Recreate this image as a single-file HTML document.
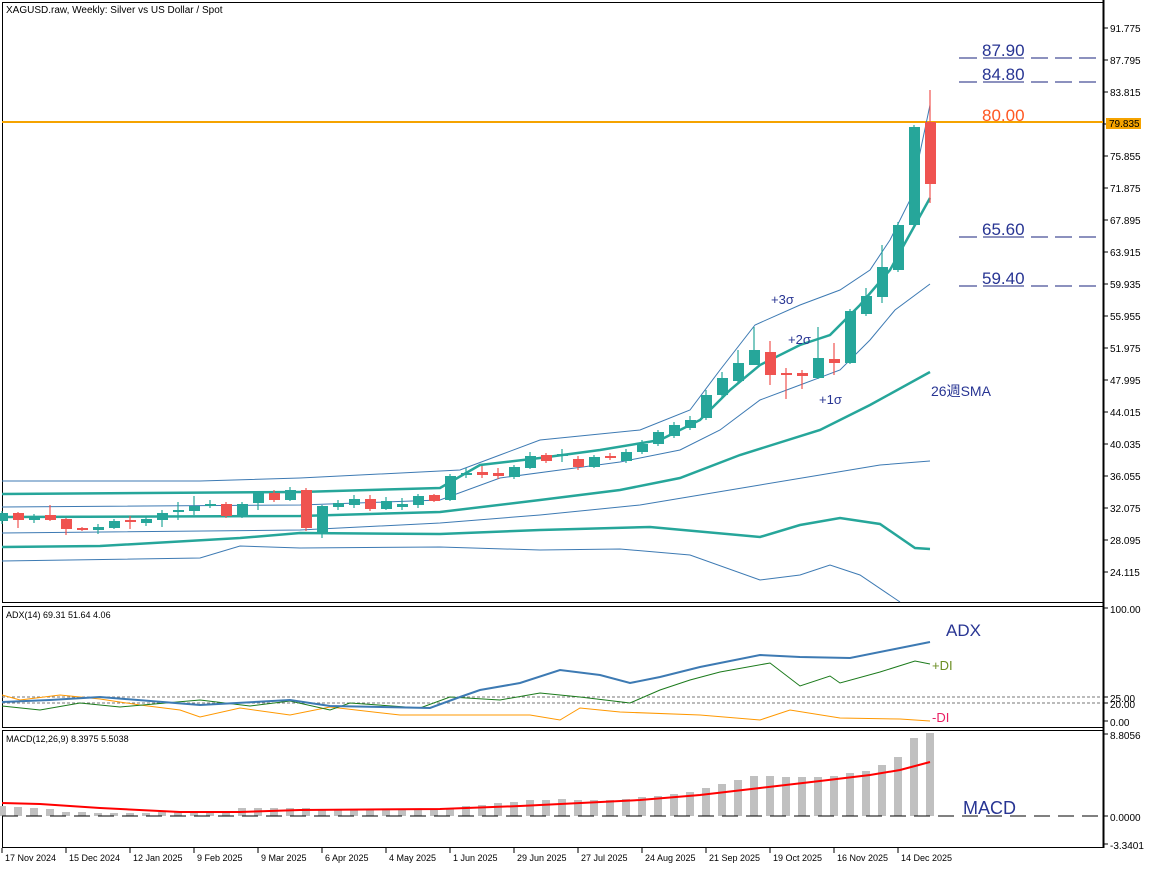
<!DOCTYPE html>
<html><head><meta charset="utf-8"><style>
html,body{margin:0;padding:0;background:#fff;}
svg{display:block;font-family:"Liberation Sans","Noto Sans CJK JP",sans-serif;}
</style></head><body>
<svg id="c" width="1152" height="870" xmlns="http://www.w3.org/2000/svg"></svg>
<script>
const S=document.getElementById('c');let h='';
function pl(pts,col,w,extra){let d=pts.map(p=>p.join(',')).join(' ');h+=`<polyline points="${d}" fill="none" stroke="${col}" stroke-width="${w}" ${extra||''}/>`;}
function ln(x1,y1,x2,y2,col,w,extra){h+=`<line x1="${x1}" y1="${y1}" x2="${x2}" y2="${y2}" stroke="${col}" stroke-width="${w}" ${extra||''}/>`;}
function tx(x,y,s,sz,col,extra){h+=`<text x="${x}" y="${y}" font-size="${sz}" fill="${col}" ${extra||''}>${s}</text>`;}
h+=`<rect x="2.5" y="2.5" width="1101" height="600" fill="none" stroke="#000"/>`;
h+=`<rect x="2.5" y="606.5" width="1101" height="121" fill="none" stroke="#000"/>`;
h+=`<rect x="2.5" y="730.5" width="1101" height="117" fill="none" stroke="#000"/>`;
ln(1103.5,0,1103.5,848,'#000',2);
const pv=['91.775','87.795','83.815','79.835','75.855','71.875','67.895','63.915','59.935','55.955','51.975','47.995','44.015','40.035','36.055','32.075','28.095','24.115'];
pv.forEach((v,i)=>{let y=28+i*32;ln(1104,y,1108,y,'#000',1);if(v!=='79.835')tx(1110,y+4,v,10,'#000');});
h+=`<rect x="1106" y="118" width="35" height="11" fill="#f5a300"/>`;tx(1109,127,'79.835',10,'#000');
ln(2,122,1103,122,'#f5a300',2);
const bands=[
[[2,481],[200,481],[300,478],[460,470],[500,455],[540,440],[640,430],[690,410],[720,370],[755,325],[800,305],[840,290],[870,270],[890,240],[910,200],[930,105],'#3d7ab3',1],
[[2,494],[300,492],[440,488],[480,465],[540,458],[600,450],[660,440],[700,420],[730,390],[760,365],[800,345],[830,335],[860,305],[890,270],[915,225],[930,198],'#26a69a',2.5],
[[2,507],[300,505],[440,500],[500,478],[560,470],[620,462],[680,450],[720,430],[760,400],[800,385],[840,370],[870,340],[895,310],[930,284],'#3d7ab3',1],
[[2,517],[300,516],[440,512],[540,500],[620,490],[680,478],[740,455],[820,430],[870,405],[930,372],'#26a69a',2.5],
[[2,533],[300,530],[440,523],[540,515],[640,505],[700,495],[760,485],[820,475],[880,465],[930,461],'#3d7ab3',1],
[[2,547],[100,546],[240,538],[300,533],[440,534],[540,530],[650,527],[760,537],[800,525],[840,518],[880,524],[915,548],[930,549],'#26a69a',2.5],
[[2,561],[200,558],[240,546],[300,548],[440,547],[540,550],[620,549],[690,555],[760,580],[800,575],[830,565],[860,575],[900,602],'#3d7ab3',1]];
bands.forEach(b=>{let w=b.pop(),c=b.pop();pl(b,c,w);});
const C=[[521,513,511,524],[513,520,512,528],[520,516,514,523],[515,520,505,521],[519,529,518,535],[528,530,527,531],[530,527,524,534],[528,521,519,529],[520,522,516,529],[523,519,516,526],[520,513,510,527],[512,510,502,520],[511,506,496,515],[506,504,500,508],[504,516,502,518],[516,504,502,518],[503,493,491,510],[493,500,490,502],[500,490,487,501],[490,528,488,531],[532,506,505,538],[507,503,500,510],[505,499,495,508],[499,509,495,511],[509,501,497,510],[506,505,498,510],[505,496,494,508],[495,501,494,502],[500,476,474,501],[475,473,468,478],[472,475,466,478],[473,476,468,479],[477,467,465,479],[468,456,452,469],[455,461,453,463],[456,454,449,462],[459,467,456,470],[467,457,455,468],[456,458,453,460],[461,452,449,463],[452,444,440,454],[444,432,430,446],[436,425,422,438],[428,420,416,430],[418,395,390,420],[395,378,372,397],[381,363,350,383],[365,350,327,365],[352,375,341,385],[374,374,368,399],[374,375,370,389],[378,358,327,379],[359,363,343,375],[363,311,309,364],[314,296,288,316],[297,267,245,303],[270,225,222,272],[225,127,125,227],[122,184,90,203]];
C.forEach((c,k)=>{let x=2+16*k,up=c[1]<c[0],col=up?'#26a69a':'#ef5350';ln(x,c[2],x,c[3],col,1.2);let t=Math.min(c[0],c[1]),b=Math.max(c[0],c[1]);if(b-t<1.5){t-=1;b+=1;}h+=`<rect x="${x-5}" y="${t}" width="11" height="${b-t}" fill="${col}"/>`;});
[[58,'87.90'],[82,'84.80'],[237,'65.60'],[286,'59.40']].forEach(([y,s])=>{ln(959,y,977,y,'#1a237e',1);ln(983,y,1024,y,'#1a237e',1);ln(1031,y,1097,y,'#1a237e',1,'stroke-dasharray="17,7"');tx(982,y-2,s,17,'#283593');});
tx(982,121,'80.00',17,'#ff5722');
tx(771,304,'+3σ',13,'#283593');tx(788,344,'+2σ',13,'#283593');tx(819,404,'+1σ',13,'#283593');tx(931,396,'26週SMA',14,'#283593');
tx(6,13,'XAGUSD.raw, Weekly:  Silver vs US Dollar / Spot',10,'#000');
ln(2,697,1103,697,'#777',1,'stroke-dasharray="3,2"');ln(2,703,1103,703,'#777',1,'stroke-dasharray="3,2"');
[[610,'100.00'],[699,'25.00'],[705,'20.00'],[723,'0.00']].forEach(([y,s])=>{tx(1110,y+3,s,10,'#000');ln(1104,y-2,1108,y-2,'#000',1);});
pl([[2,695],[20,700],[60,695],[100,699],[140,705],[180,710],[200,717],[240,708],[290,715],[330,707],[400,715],[530,715],[560,720],[580,708],[620,712],[700,715],[760,720],[790,710],[840,718],[900,719],[930,721]],'#ff9800',1);
pl([[2,706],[40,710],[80,703],[120,707],[200,700],[250,706],[290,701],[330,710],[350,703],[420,708],[450,697],[500,700],[540,693],[580,697],[630,703],[660,690],[690,680],[720,672],[770,663],[800,686],[830,676],[840,683],[880,672],[915,661],[930,664]],'#1b7a1b',1);
pl([[2,702],[50,700],[100,697],[200,705],[290,700],[330,706],[430,708],[460,697],[480,690],[520,683],[560,670],[600,675],[630,683],[660,677],[700,667],[760,655],[800,657],[850,658],[890,650],[930,642]],'#3d7ab3',2);
tx(6,618,'ADX(14) 69.31 51.64 4.06',9,'#000');
tx(946,636,'ADX',17,'#283593');tx(932,670,'+DI',13,'#6b8e23');tx(932,722,'-DI',13,'#e91e63');
const T=[806,807,808,809,812,812,813,813,813,813,812,811,811,811,811,808,808,808,808,808,809,810,810,810,810,810,810,810,808,806,805,803,802,800,800,799,800,800,800,799,797,796,794,792,788,784,780,776,776,777,777,777,776,773,771,765,757,738,733];
T.forEach((t,k)=>{let x=2+16*k;h+=`<rect x="${x-4}" y="${t}" width="8" height="${816-t}" fill="#c0c0c0"/>`;});
ln(2,816,1103,816,'#000',1,'stroke-dasharray="16,8"');
pl([[2,803],[40,804],[100,808],[180,812],[240,812],[300,810],[440,809],[520,806],[640,800],[700,795],[760,788],[820,781],[870,775],[900,770],[930,762]],'#ff0000',2);
tx(6,742,'MACD(12,26,9) 8.3975 5.5038',9,'#000');
tx(963,814,'MACD',18,'#283593');
[[736,'8.8056'],[818,'0.0000'],[846,'-3.3401']].forEach(([y,s])=>{tx(1110,y+3,s,10,'#000');ln(1104,y-2,1108,y-2,'#000',1);});
['17 Nov 2024','15 Dec 2024','12 Jan 2025','9 Feb 2025','9 Mar 2025','6 Apr 2025','4 May 2025','1 Jun 2025','29 Jun 2025','27 Jul 2025','24 Aug 2025','21 Sep 2025','19 Oct 2025','16 Nov 2025','14 Dec 2025'].forEach((s,i)=>{let x=2+64*i;ln(x,848,x,853,'#000',1);tx(x+3,861,s,9,'#000');});
S.innerHTML=h;
</script>
</body></html>
